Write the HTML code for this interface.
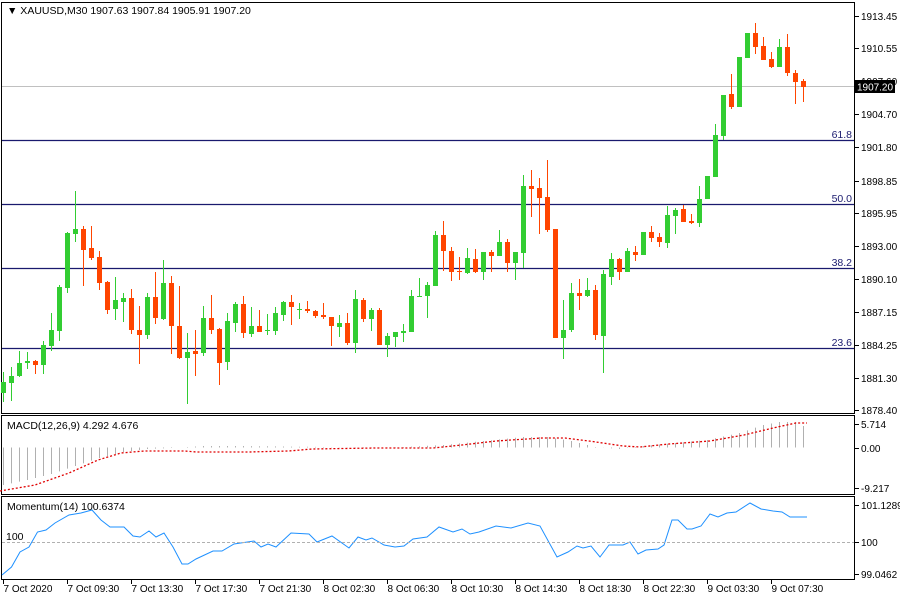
<!DOCTYPE html>
<html><head><meta charset="utf-8"><style>
html,body{margin:0;padding:0;background:#fff;}
svg{display:block;font-family:"Liberation Sans",sans-serif;font-size:11px;}
</style></head><body>
<svg id="c" width="900" height="600" xmlns="http://www.w3.org/2000/svg">
<rect width="900" height="600" fill="#fff"/>
<rect x="1.5" y="2.5" width="853" height="411" fill="none" stroke="#000"/>
<rect x="1.5" y="415.5" width="853" height="79" fill="none" stroke="#000"/>
<rect x="1.5" y="496.5" width="853" height="83" fill="none" stroke="#000"/>
<line x1="2" y1="86.5" x2="854" y2="86.5" stroke="#c0c0c0"/>
<g stroke="#1a1a6e" stroke-width="1.3">
<line x1="2" y1="140.5" x2="854" y2="140.5"/>
<line x1="2" y1="204.5" x2="854" y2="204.5"/>
<line x1="2" y1="268.5" x2="854" y2="268.5"/>
<line x1="2" y1="348.5" x2="854" y2="348.5"/>
</g>
<g fill="#1a1a6e" text-anchor="end" font-size="10.5">
<text x="852" y="138">61.8</text>
<text x="852" y="202">50.0</text>
<text x="852" y="266">38.2</text>
<text x="852" y="346">23.6</text>
</g>
<g id="cand"></g>
<g id="macd"></g>
<polyline id="mom" fill="none" stroke="#1e90ff" stroke-width="1"/>
<line x1="2" y1="542.5" x2="854" y2="542.5" stroke="#b0b0b0" stroke-dasharray="3,2"/>
<text x="6" y="540" font-size="10.5">100</text>
<text x="7" y="14" font-size="10.5">▼ XAUUSD,M30  1907.63 1907.84 1905.91 1907.20</text>
<text x="7" y="429" font-size="10.5">MACD(12,26,9) 4.292 4.676</text>
<text x="7" y="510" font-size="10.5">Momentum(14) 100.6374</text>
<g id="axis" font-size="10"></g>
<rect x="855" y="80" width="40" height="13" fill="#000"/>
<text x="857" y="90.5" fill="#fff" font-size="10" textLength="36">1907.20</text>
</svg>
<script>
var NS="http://www.w3.org/2000/svg";
function el(p,t,a,txt){var e=document.createElementNS(NS,t);for(var k in a)e.setAttribute(k,a[k]);if(txt!==undefined)e.textContent=txt;document.getElementById(p).appendChild(e);return e;}
var C=[
[382,393,372,402,'g'],[376,383,367,401,'g'],[363,376,351,377,'g'],[361,363,352,369,'g'],[361,365,360,374,'r'],
[345,365,341,374,'g'],[330,346,313,351,'g'],[287,331,285,341,'g'],[233,288,232,293,'g'],[229,234,191,242,'g'],
[229,250,226,286,'r'],[248,258,226,260,'r'],[257,283,251,290,'r'],[282,310,281,314,'r'],[300,309,277,320,'g'],
[298,302,293,322,'g'],[298,330,289,334,'r'],[330,335,306,364,'r'],[297,335,293,339,'g'],[297,318,272,324,'r'],
[283,319,260,320,'g'],[283,326,276,354,'r'],[326,358,286,359,'r'],[352,358,333,404,'g'],[351,354,330,376,'r'],
[318,353,306,356,'g'],[318,330,295,334,'r'],[329,363,328,385,'r'],[321,362,313,370,'g'],[304,323,302,332,'g'],
[304,333,296,338,'r'],[326,334,307,337,'g'],[326,332,310,332,'r'],[330,331,314,335,'g'],[313,331,307,335,'g'],
[302,315,301,321,'g'],[302,307,295,325,'r'],[309,310,303,319,'g'],[309,311,301,313,'r'],[311,316,310,318,'r'],
[315,317,303,319,'r'],[317,326,317,346,'r'],[323,327,315,337,'g'],[323,343,313,345,'r'],[299,343,290,353,'g'],
[300,319,298,322,'r'],[310,319,308,331,'g'],[310,345,308,345,'r'],[336,345,333,357,'g'],[332,337,332,347,'g'],
[331,333,324,342,'g'],[296,332,290,332,'g'],[296,297,278,297,'g'],[285,296,282,318,'g'],[235,286,231,286,'g'],
[235,251,221,271,'r'],[251,272,247,281,'r'],[271,272,257,280,'r'],[258,273,248,274,'g'],[259,272,249,273,'r'],
[252,272,252,280,'g'],[252,256,250,272,'r'],[242,256,230,256,'g'],[242,263,239,272,'r'],[252,263,252,280,'g'],
[186,253,175,268,'g'],[186,189,170,217,'r'],[188,198,178,234,'r'],[197,230,160,232,'r'],[229,338,229,338,'r'],
[330,338,300,359,'g'],[293,330,283,332,'g'],[293,296,279,310,'r'],[290,296,278,297,'g'],[290,335,285,340,'r'],
[274,336,270,373,'g'],[259,277,253,285,'g'],[259,272,258,280,'r'],[251,272,248,272,'g'],[252,255,246,261,'r'],
[232,255,232,255,'g'],[232,238,226,242,'r'],[237,242,233,247,'r'],[215,243,206,248,'g'],[210,216,208,234,'g'],
[209,222,205,222,'r'],[221,223,214,224,'r'],[199,223,186,227,'g'],[176,199,176,199,'g'],[135,177,124,177,'g'],
[95,136,95,140,'g'],[94,107,74,109,'r'],[57,107,57,107,'g'],[33,58,33,58,'g'],[33,47,23,54,'r'],
[46,60,37,60,'r'],[59,67,52,68,'r'],[47,67,39,67,'g'],[47,73,34,76,'r'],[73,82,70,104,'r'],[81,87,79,102,'r']];
for(var k=0;k<C.length;k++){var c=C[k],x=3.5+8*k,col=c[4]=='g'?'#32cd32':'#ff4500';
el('cand','line',{x1:x,y1:c[2],x2:x,y2:c[3],stroke:col});
var h=Math.max(1,c[1]-c[0]);el('cand','rect',{x:x-2.5,y:c[0],width:5,height:h,fill:col});}
function interp(P,k){for(var i=0;i<P.length-1;i++){if(k<=P[i+1][0]){var t=(k-P[i][0])/(P[i+1][0]-P[i][0]);return P[i][1]+t*(P[i+1][1]-P[i][1]);}}return P[P.length-1][1];}
var H=[[0,485],[3,480],[6,474],[9,466],[12,458],[15,452],[18,449],[21,448],[25,446],[30,446],[40,447],[45,448],[50,447],[55,445],[60,441],[65,437],[68,437],[71,441],[74,447],[77,449],[80,446],[84,443],[88,440],[92,433],[95,425],[97,422],[99,422],[100,426]];
for(var k=0;k<=100;k++){var x=3.5+8*k,y=interp(H,k);el('macd','line',{x1:x,y1:447.5,x2:x,y2:y,stroke:'#b0b0b0'});}
var S=[[0,491],[35,485],[69,473],[98,460],[121,453],[144,451],[185,451],[196,452],[219,452],[248,452],[289,451],[312,449],[375,448],[433,448],[462,445],[496,441],[542,438],[565,438],[589,441],[623,446],[640,447],[669,444],[710,441],[744,435],[773,428],[796,423],[807,423]];
el('macd','polyline',{points:S.map(function(p){return p.join(',')}).join(' '),fill:'none',stroke:'#e00000','stroke-dasharray':'2,2','stroke-width':1.3});
var M=[[2,575],[11.5,567],[20,552],[29,547],[37.5,532],[46,530],[55,523],[69,515],[81,513],[92,510],[101,520],[110,527],[124,527],[133,536],[140,537],[149,531],[156,537],[164,533],[173,547],[182,564],[188,564],[196,559],[213,551],[222,551],[234,544],[254,541],[261,547],[268,544],[276,547],[291,533],[309,534],[317,542],[332,536],[349,548],[358,537],[366,540],[372,538],[384,545],[395,547],[404,546],[413,539],[427,537],[439,527],[453,532],[462,529],[470,534],[479,532],[496,526],[511,528],[528,523],[540,526],[557,557],[568,552],[577,546],[583,548],[591,546],[600,557],[609,545],[623,545],[630,542],[638,554],[646,550],[658,549],[664,545],[672,520],[678,520],[687,529],[692,529],[701,526],[710,514],[718,517],[727,513],[736,512],[750,503],[761,509],[773,511],[782,512],[790,517],[807,517]];
document.getElementById('mom').setAttribute('points',M.map(function(p){return p.join(',')}).join(' '));
var PL=[['1913.45',16],['1910.55',48],['1907.60',81],['1904.70',114],['1901.80',147],['1898.85',181],['1895.95',213],['1893.00',246],['1890.10',279],['1887.15',312],['1884.25',345],['1881.30',378],['1878.40',410]];
PL.forEach(function(p){el('axis','line',{x1:855,y1:p[1]+0.5,x2:859,y2:p[1]+0.5,stroke:'#000'});el('axis','text',{x:861,y:p[1]+4},p[0]);});
[['5.714',424],['0.00',448],['-9.217',488]].forEach(function(p){el('axis','line',{x1:855,y1:p[1]+0.5,x2:859,y2:p[1]+0.5,stroke:'#000'});el('axis','text',{x:861,y:p[1]+4},p[0]);});
[['101.1289',505],['100',542],['99.0462',574]].forEach(function(p){el('axis','line',{x1:855,y1:p[1]+0.5,x2:859,y2:p[1]+0.5,stroke:'#000'});el('axis','text',{x:861,y:p[1]+4},p[0]);});
var T=['7 Oct 2020','7 Oct 09:30','7 Oct 13:30','7 Oct 17:30','7 Oct 21:30','8 Oct 02:30','8 Oct 06:30','8 Oct 10:30','8 Oct 14:30','8 Oct 18:30','8 Oct 22:30','9 Oct 03:30','9 Oct 07:30'];
T.forEach(function(t,i){var x=3.5+64*i;el('axis','line',{x1:x,y1:580,x2:x,y2:584,stroke:'#000'});el('axis','text',{x:x,y:592},t);});
</script>
</body></html>
